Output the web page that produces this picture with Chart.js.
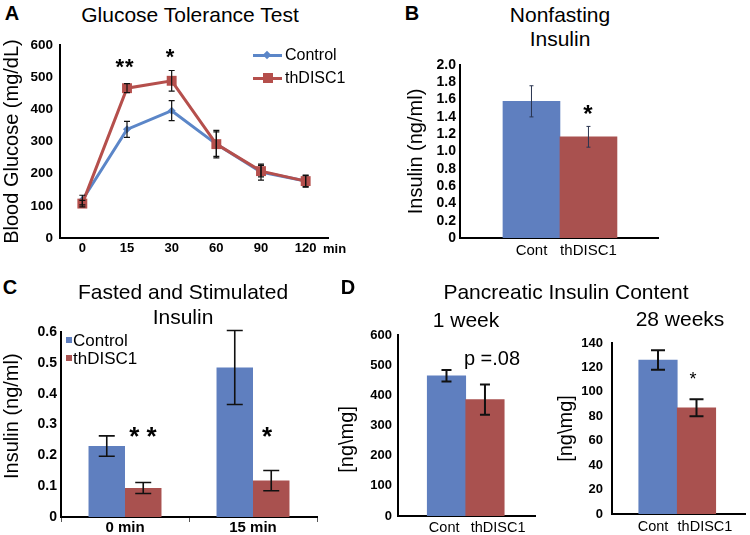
<!DOCTYPE html>
<html>
<head>
<meta charset="utf-8">
<script src="https://cdn.jsdelivr.net/npm/chart.js@4.4.1/dist/chart.umd.min.js"></script>
<style>
  html, body { margin: 0; padding: 0; background: #fff; }
  #wrap { position: relative; width: 750px; height: 535px; overflow: hidden; font-family: 'Liberation Sans', Arial, sans-serif; color: #000; }
  canvas { position: absolute; }
  .t { position: absolute; white-space: nowrap; transform: translateX(-50%); line-height: 1; }
  .l { position: absolute; white-space: nowrap; line-height: 1; }
  .b { font-weight: bold; }
  .sw { position: absolute; }
</style>
</head>
<body>
<div id="wrap">
  <canvas id="cA" width="370" height="240" style="left:0px;top:30px"></canvas>
  <canvas id="cB" width="300" height="220" style="left:380px;top:50px"></canvas>
  <canvas id="cC" width="380" height="235" style="left:0px;top:300px"></canvas>
  <canvas id="cD1" width="220" height="235" style="left:330px;top:300px"></canvas>
  <canvas id="cD2" width="200" height="235" style="left:550px;top:300px"></canvas>

  <!-- panel letters and titles -->
  <div class="t b" style="left:12px;top:3px;font-size:20px">A</div>
  <div class="t" style="left:190px;top:4px;font-size:21px">Glucose Tolerance Test</div>
  <div class="t b" style="left:412px;top:3px;font-size:20px">B</div>
  <div class="t" style="left:560px;top:4px;font-size:21px">Nonfasting</div>
  <div class="t" style="left:560px;top:28px;font-size:21px">Insulin</div>
  <div class="t b" style="left:10px;top:277px;font-size:20px">C</div>
  <div class="t" style="left:183px;top:281px;font-size:21px">Fasted and Stimulated</div>
  <div class="t" style="left:183px;top:306px;font-size:21px">Insulin</div>
  <div class="t b" style="left:348px;top:277px;font-size:20px">D</div>
  <div class="t" style="left:566px;top:281px;font-size:21px">Pancreatic Insulin Content</div>
  <div class="t" style="left:466px;top:309px;font-size:21px">1 week</div>
  <div class="t" style="left:680px;top:308px;font-size:21px">28 weeks</div>

  <!-- significance marks -->
  <div class="t b" style="left:125px;top:56px;font-size:22px;letter-spacing:1px">**</div>
  <div class="t b" style="left:170px;top:46px;font-size:22px">*</div>
  <div class="t b" style="left:588px;top:102px;font-size:24px">*</div>
  <div class="t b" style="left:143px;top:423px;font-size:26px">* *</div>
  <div class="t b" style="left:267px;top:423px;font-size:26px">*</div>
  <div class="t" style="left:492px;top:348px;font-size:20px">p =.08</div>
  <div class="t" style="left:693px;top:370px;font-size:18px">*</div>
  <div class="l b" style="left:323px;top:242px;font-size:13px">min</div>

  <!-- legend A -->
  <div class="sw" style="left:253px;top:54px;width:29px;height:3px;background:#5b86c8"></div>
  <div class="sw" style="left:264px;top:52px;width:6px;height:6px;background:#5b86c8;transform:rotate(45deg)"></div>
  <div class="l" style="left:285px;top:47px;font-size:16px">Control</div>
  <div class="sw" style="left:253px;top:77px;width:29px;height:3px;background:#b54f4c"></div>
  <div class="sw" style="left:263px;top:73px;width:10px;height:10px;background:#b54f4c"></div>
  <div class="l" style="left:285px;top:70px;font-size:16px">thDISC1</div>

  <!-- legend C -->
  <div class="sw" style="left:66px;top:337px;width:6px;height:6px;background:#5f7fbf"></div>
  <div class="l" style="left:73px;top:332px;font-size:17px">Control</div>
  <div class="sw" style="left:66px;top:355px;width:6px;height:6px;background:#a9514f"></div>
  <div class="l" style="left:73px;top:350px;font-size:17px">thDISC1</div>
</div>

<script>
// ---------- data ----------
const gttTimes = ['0', '15', '30', '60', '90', '120'];
const gttControl = [118, 338, 396, 292, 205, 177];
const gttControlErr = [15, 25, 31, 43, 25, 19];
const gttThdisc1 = [107, 466, 489, 292, 208, 177];
const gttThdisc1Err = [10, 14, 32, 38, 18, 17];

const groupLabels = ['Cont', 'thDISC1'];

const nonfastInsulin = [1.58, 1.17];
const nonfastInsulinErr = [0.18, 0.12];

const fastTimes = ['0 min', '15 min'];
const fastControl = [0.23, 0.485];
const fastControlErr = [0.033, 0.12];
const fastThdisc1 = [0.094, 0.118];
const fastThdisc1Err = [0.018, 0.033];

const pancWeek1 = [465, 386];
const pancWeek1Err = [19, 50];
const pancWeek28 = [126, 87];
const pancWeek28Err = [8, 7];

// ---------- style ----------
const BLUE = '#5f7fbf', RED = '#a9514f';
const BLUE_LINE = '#5b86c8', RED_LINE = '#b54f4c';
Chart.defaults.font.family = "'Liberation Sans', Arial, sans-serif";
Chart.defaults.color = '#000';

const errorBars = {
  id: 'errorBars',
  afterDatasetsDraw(chart, args, opts) {
    const ctx = chart.ctx, ys = chart.scales.y;
    ctx.save();
    ctx.strokeStyle = opts.color || '#000';
    ctx.lineWidth = opts.width || 1.5;
    chart.data.datasets.forEach((ds, di) => {
      if (!ds.errors) return;
      const meta = chart.getDatasetMeta(di);
      meta.data.forEach((el, i) => {
        const d = ds.data[i];
        const v = (typeof d === 'object') ? d.y : d;
        const e = ds.errors[i];
        const x = el.x;
        const t = ys.getPixelForValue(v + e), b = ys.getPixelForValue(v - e);
        const c = opts.cap || 4;
        ctx.beginPath();
        ctx.moveTo(x, t); ctx.lineTo(x, b);
        ctx.moveTo(x - c, t); ctx.lineTo(x + c, t);
        ctx.moveTo(x - c, b); ctx.lineTo(x + c, b);
        ctx.stroke();
      });
    });
    ctx.restore();
  }
};
Chart.register(errorBars);

function yAxis(min, max, step, width, title, fontSize, pad, fmt) {
  return {
    min: min, max: max,
    grid: { display: false, drawTicks: false },
    border: { color: '#000', width: 2 },
    ticks: { stepSize: step, padding: pad, autoSkip: false, color: '#000', font: { size: fontSize, weight: 'bold' }, callback: fmt },
    title: { display: true, text: title, font: { size: 20 }, padding: 0, color: '#000' },
    afterFit(s) { s.width = width; }
  };
}
// tickPos: where the group names sit along the linear x axis (bars sit at 1 and 2)
function groupX(min, max, height, fontSize, pad, tickPos) {
  return {
    type: 'linear', min: min, max: max, offset: false,
    grid: { display: false, drawTicks: false },
    border: { color: '#000', width: 2 },
    afterBuildTicks(s) { s.ticks = tickPos.map(v => ({ value: v })); },
    ticks: { padding: pad, autoSkip: false, maxRotation: 0, color: '#000', font: { size: fontSize },
             callback: (v, i) => groupLabels[i] },
    afterFit(s) { s.height = height; }
  };
}
const common = { responsive: false, animation: false, events: [] };
const noPlug = { legend: { display: false }, tooltip: { enabled: false } };
const f1 = v => v === 0 ? '0' : v.toFixed(1);
const f0 = v => String(Math.round(v));

// ---------- A ----------
new Chart(document.getElementById('cA'), {
  type: 'line',
  data: {
    labels: gttTimes,
    datasets: [
      { label: 'thDISC1', data: gttThdisc1, errors: gttThdisc1Err, borderColor: RED_LINE, backgroundColor: RED_LINE,
        pointStyle: 'rect', pointRadius: 7, pointBorderWidth: 0, borderWidth: 3, order: 0 },
      { label: 'Control', data: gttControl, errors: gttControlErr, borderColor: BLUE_LINE, backgroundColor: BLUE_LINE,
        pointStyle: 'rectRot', pointRadius: 4, pointBorderWidth: 0, borderWidth: 3, order: 1 }
    ]
  },
  options: Object.assign({}, common, {
    layout: { padding: { left: 0, top: 15, right: 42, bottom: 0 } },
    plugins: Object.assign({}, noPlug, { errorBars: { color: '#111', width: 1.2, cap: 3 } }),
    scales: {
      x: { offset: true, grid: { display: false, drawTicks: false }, border: { color: '#000', width: 2 },
           ticks: { padding: 3, color: '#000', font: { size: 13, weight: 'bold' } },
           afterFit(s) { s.height = 32; } },
      y: yAxis(0, 600, 100, 60, 'Blood Glucose (mg/dL)', 13.5, 7, f0)
    }
  })
});

// ---------- B ----------
new Chart(document.getElementById('cB'), {
  type: 'bar',
  data: {
    datasets: [{ label: 'Insulin', data: groupLabels.map((g, i) => ({ x: i + 1, y: nonfastInsulin[i] })),
      errors: nonfastInsulinErr, backgroundColor: [BLUE, RED], borderWidth: 0,
      barPercentage: 1, categoryPercentage: 1 }]
  },
  options: Object.assign({}, common, {
    layout: { padding: { left: 24, top: 15, right: 22, bottom: 0 } },
    plugins: Object.assign({}, noPlug, { errorBars: { color: '#2a3550', width: 1, cap: 2 } }),
    scales: {
      x: groupX(-0.254, 3.22, 32, 15, 4, [1, 2]),
      y: yAxis(0, 2.0, 0.2, 56, 'Insulin (ng/ml)', 14, 4, f1)
    }
  })
});

// ---------- C ----------
new Chart(document.getElementById('cC'), {
  type: 'bar',
  data: {
    labels: fastTimes,
    datasets: [
      { label: 'Control', data: fastControl, errors: fastControlErr, backgroundColor: BLUE, borderWidth: 0,
        barPercentage: 1, categoryPercentage: 0.57 },
      { label: 'thDISC1', data: fastThdisc1, errors: fastThdisc1Err, backgroundColor: RED, borderWidth: 0,
        barPercentage: 1, categoryPercentage: 0.57 }
    ]
  },
  options: Object.assign({}, common, {
    layout: { padding: { left: 0, top: 32, right: 63, bottom: 0 } },
    plugins: Object.assign({}, noPlug, { errorBars: { color: '#111', width: 1.6, cap: 8 } }),
    scales: {
      x: { grid: { display: true, offset: true, drawOnChartArea: false, drawTicks: true, tickLength: 5, color: '#555', lineWidth: 1 },
           border: { color: '#000', width: 2 },
           ticks: { padding: -3, color: '#000', font: { size: 15, weight: 'bold' } },
           afterFit(s) { s.height = 18; } },
      y: yAxis(0, 0.6, 0.1, 61, '   Insulin (ng/ml)', 14, 4, f1)
    }
  })
});

// ---------- D (1 week) ----------
new Chart(document.getElementById('cD1'), {
  type: 'bar',
  data: {
    datasets: [{ label: '1 week', data: groupLabels.map((g, i) => ({ x: i + 1, y: pancWeek1[i] })),
      errors: pancWeek1Err, backgroundColor: [BLUE, RED], borderWidth: 0,
      barPercentage: 1, categoryPercentage: 1 }]
  },
  options: Object.assign({}, common, {
    layout: { padding: { left: 5, top: 35, right: 15, bottom: 0 } },
    plugins: Object.assign({}, noPlug, { errorBars: { color: '#111', width: 2, cap: 5 } }),
    scales: {
      x: groupX(-0.26, 3.30, 19, 14.5, 3, [0.94, 2.34]),
      y: yAxis(0, 600, 100, 63, '[ng\\mg]     ', 13, 6, f0)
    }
  })
});

// ---------- D (28 weeks) ----------
new Chart(document.getElementById('cD2'), {
  type: 'bar',
  data: {
    datasets: [{ label: '28 weeks', data: groupLabels.map((g, i) => ({ x: i + 1, y: pancWeek28[i] })),
      errors: pancWeek28Err, backgroundColor: [BLUE, RED], borderWidth: 0,
      barPercentage: 1, categoryPercentage: 1 }]
  },
  options: Object.assign({}, common, {
    layout: { padding: { left: 4, top: 43, right: 5, bottom: 0 } },
    plugins: Object.assign({}, noPlug, { errorBars: { color: '#111', width: 2, cap: 7 } }),
    scales: {
      x: groupX(-0.195, 3.26, 21, 14.5, 4, [0.87, 2.22]),
      y: yAxis(0, 140, 20, 58, '[ng\\mg]', 13, 9, f0)
    }
  })
});
</script>
</body>
</html>
